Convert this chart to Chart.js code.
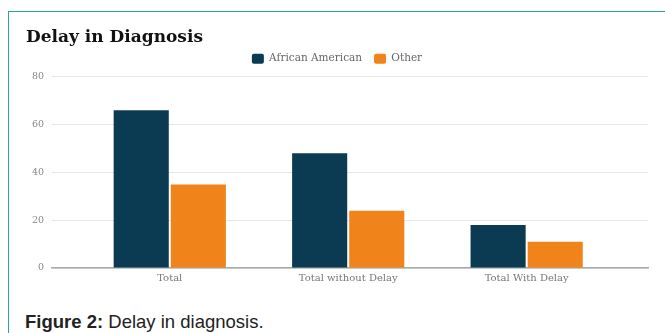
<!DOCTYPE html>
<html>
<head>
<meta charset="utf-8">
<script src="https://cdn.jsdelivr.net/npm/chart.js@4"></script>
<style>
  html, body { margin: 0; padding: 0; background: #fff; }
  body { width: 665px; height: 333px; position: relative; overflow: hidden; }
  #frame {
    position: absolute; left: 8px; top: 11px; width: 660px; height: 330px;
    border-top: 1.5px solid #27a899; border-left: 1.5px solid #27a899;
  }
  #wrap { position: absolute; left: 10px; top: 13px; width: 655px; height: 290px; }
  #caption {
    position: absolute; left: 25px; top: 313px;
    font-family: "Liberation Sans", Arial, sans-serif; font-size: 18.5px; line-height: 1;
    color: #222;
  }
</style>
</head>
<body>
<div id="frame"></div>
<div id="wrap"><canvas id="chart"></canvas></div>
<div id="caption"><b>Figure 2:</b> Delay in diagnosis.</div>
<script>
const categories = ['Total', 'Total without Delay', 'Total With Delay'];
const africanAmerican = [66, 48, 18];
const other = [35, 24, 11];
const yTicks = [0, 20, 40, 60, 80];

const serif = '"DejaVu Serif", "Liberation Serif", serif';

// puntos {x, y} para usar un eje x lineal (así las líneas de la rejilla pasan más allá de las barras)
const toPoints = arr => arr.map((v, i) => ({ x: i, y: v }));

// ajuste del espacio entre la leyenda y el gráfico
const legendMargin = {
  id: 'legendMargin',
  beforeInit(chart) {
    const fit = chart.legend.fit;
    chart.legend.fit = function () {
      fit.bind(chart.legend)();
      this.height += 3;
    };
  }
};

new Chart(document.getElementById('chart'), {
  type: 'bar',
  data: {
    datasets: [
      {
        label: 'African American',
        data: toPoints(africanAmerican),
        backgroundColor: '#0b3a53',
        categoryPercentage: 0.64,
        barPercentage: 0.965
      },
      {
        label: 'Other',
        data: toPoints(other),
        backgroundColor: '#f0831a',
        categoryPercentage: 0.64,
        barPercentage: 0.965
      }
    ]
  },
  options: {
    responsive: true,
    maintainAspectRatio: false,
    animation: false,
    layout: { padding: { left: 16, right: 17, top: 0, bottom: 0 } },
    plugins: {
      title: {
        display: true,
        text: 'Delay in Diagnosis',
        align: 'start',
        color: '#111',
        font: { family: serif, size: 17, weight: 'bold' },
        padding: { top: 14, bottom: -6 }
      },
      legend: {
        labels: {
          boxWidth: 12,
          boxHeight: 10,
          padding: 12,
          color: '#666',
          useBorderRadius: true,
          borderRadius: 2,
          font: { family: serif, size: 10.5 }
        }
      },
      tooltip: { enabled: false }
    },
    scales: {
      x: {
        type: 'linear',
        offset: false,
        bounds: 'data',
        min: -0.66,
        max: 2.68,
        afterBuildTicks: s => { s.ticks = categories.map((c, i) => ({ value: i })); },
        afterFit: s => { s.height = 35; },
        ticks: {
          callback: v => categories[v],
          color: '#777',
          padding: 4,
          maxRotation: 0,
          font: { family: serif, size: 10 }
        },
        grid: { display: false, drawTicks: false },
        border: { display: true, color: '#a8a8a8', width: 1.5 }
      },
      y: {
        min: 0,
        max: 80,
        afterBuildTicks: s => { s.ticks = yTicks.map(v => ({ value: v })); },
        afterFit: s => { s.width = 26; },
        ticks: {
          color: '#888',
          padding: 8,
          font: { family: serif, size: 9.5 }
        },
        grid: { color: '#e6e6e6', drawTicks: false },
        border: { display: false }
      }
    }
  },
  plugins: [legendMargin]
});
</script>
</body>
</html>
